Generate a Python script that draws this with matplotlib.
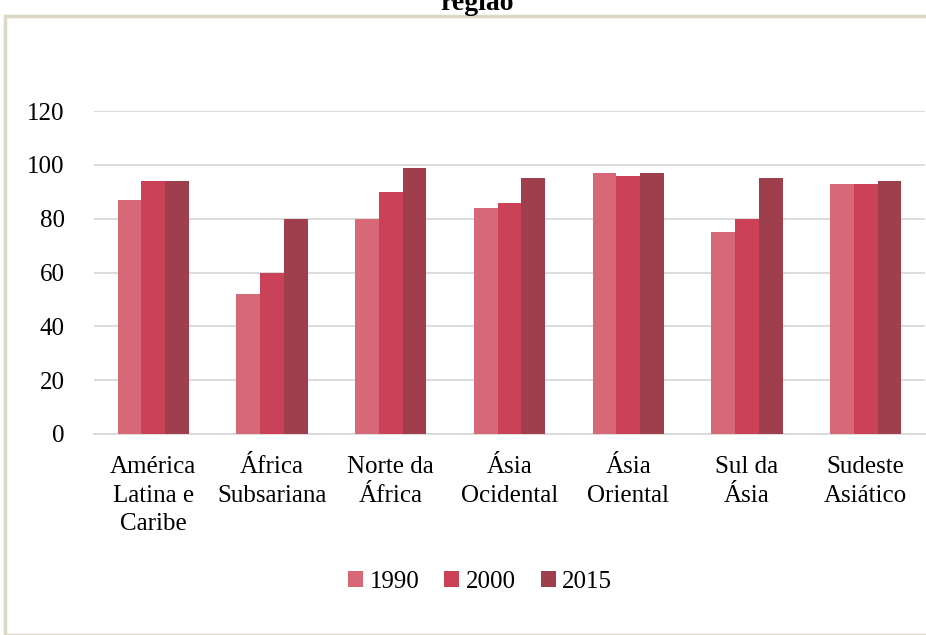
import matplotlib.pyplot as plt
import matplotlib.patches as mpatches
import numpy as np

plt.rcParams["font.family"] = ["Liberation Serif", "DejaVu Serif"]

regions = [
    "América\nLatina e\nCaribe",
    "África\nSubsariana",
    "Norte da\nÁfrica",
    "Ásia\nOcidental",
    "Ásia\nOriental",
    "Sul da\nÁsia",
    "Sudeste\nAsiático",
]
years = ["1990", "2000", "2015"]
v1990 = [87, 52, 80, 84, 97, 75, 93]
v2000 = [94, 60, 90, 86, 96, 80, 93]
v2015 = [94, 80, 99, 95, 97, 95, 94]
colors = ["#d66878", "#cb4157", "#9f3e4d"]

fig = plt.figure(figsize=(9.26, 6.35), dpi=100)
ax = fig.add_axes([94 / 926, 1 - 434 / 635, 831 / 926, 323 / 635])

# outer frame of the chart area
fig.patches.append(mpatches.Rectangle((5 / 926, 0), 1.2, 1 - 16 / 635,
                                      transform=fig.transFigure, fill=False,
                                      edgecolor="#dcd8c6", linewidth=2.5))
fig.text(0.515, 1 - 10.5 / 635, "região", ha="center", va="baseline",
         fontsize=20, fontweight="bold")

x = np.arange(len(regions))
w = 0.2
for i, (vals, c, lab) in enumerate(zip([v1990, v2000, v2015], colors, years)):
    ax.bar(x + (i - 1) * w, vals, w, color=c, label=lab, zorder=3)

ax.set_xlim(-0.5, len(regions) - 0.5)
ax.set_ylim(0, 120)
ax.set_yticks(range(0, 121, 20))
ax.yaxis.grid(True, color="#d9d9d9", linewidth=1.3, zorder=0)
ax.set_xticks(x)
ax.set_xticklabels(regions, fontsize=18, linespacing=1.38)
ax.tick_params(axis="y", labelsize=18, length=0, pad=21)
ax.tick_params(axis="x", length=0, pad=16)
for s in ["top", "right", "left"]:
    ax.spines[s].set_visible(False)
ax.spines["bottom"].set_color("#d9d9d9")
ax.spines["bottom"].set_linewidth(1.3)

handles, labels = ax.get_legend_handles_labels()
fig.legend(handles, labels, loc="center", bbox_to_anchor=(480 / 926, 1 - 582 / 635),
           ncol=3, frameon=False, fontsize=18, handlelength=0.6, handleheight=0.6,
           handletextpad=0.25, columnspacing=1.0)

fig.savefig("out.png", dpi=100)
